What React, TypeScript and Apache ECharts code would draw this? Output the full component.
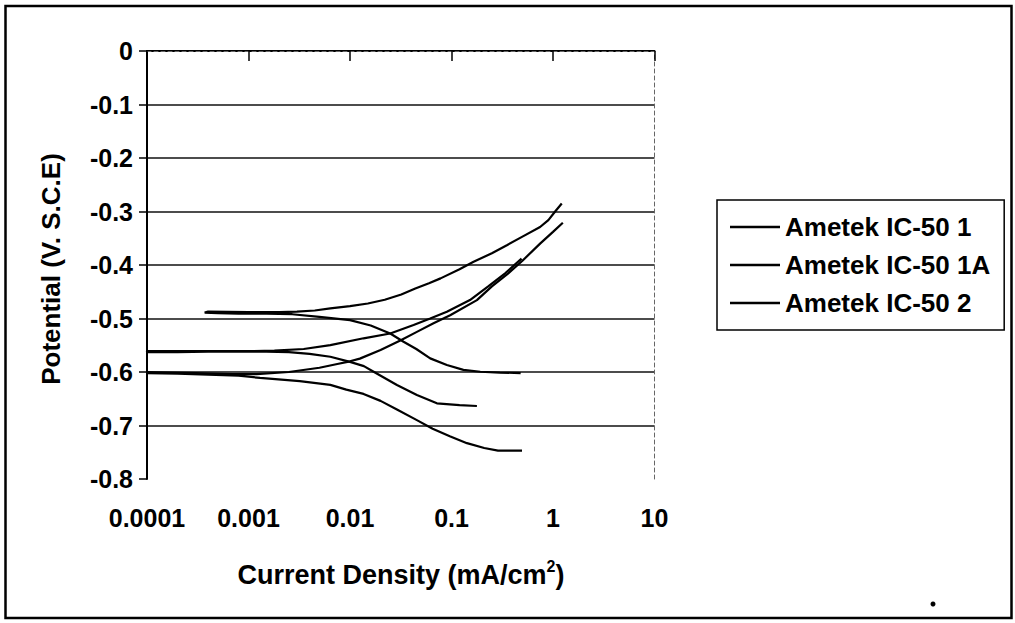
import React, { useEffect, useRef } from "react";
import * as echarts from "echarts";

const FONT = '"Liberation Sans", Arial, sans-serif';

const seriesNames = ["Ametek IC-50 1", "Ametek IC-50 1A", "Ametek IC-50 2"];
const xTickLabels = ["0.0001", "0.001", "0.01", "0.1", "1", "10"];
const yTickLabels = ["-0.8", "-0.7", "-0.6", "-0.5", "-0.4", "-0.3", "-0.2", "-0.1", "0"];

// [current density mA/cm2, potential V]; cathodic branch -> Ecorr -> anodic branch
const seriesA = [
  [0.48, -0.602], [0.3, -0.601], [0.192, -0.5995], [0.131, -0.596], [0.09, -0.587],
  [0.0617, -0.5745], [0.045, -0.557], [0.0337, -0.5435], [0.0249, -0.528], [0.016, -0.513],
  [0.01, -0.503], [0.005, -0.497], [0.0027, -0.492], [0.0015, -0.491], [0.0008, -0.491],
  [0.0005, -0.49], [0.00037, -0.489],
  [0.0004, -0.487], [0.001, -0.488], [0.002, -0.488], [0.003, -0.487], [0.0045, -0.485],
  [0.0064, -0.481], [0.01, -0.477], [0.015, -0.472], [0.022, -0.465], [0.032, -0.455],
  [0.044, -0.444], [0.06, -0.434], [0.078, -0.425], [0.12, -0.408], [0.165, -0.394],
  [0.25, -0.378], [0.351, -0.363], [0.5, -0.347], [0.746, -0.329], [0.9, -0.316],
  [1.05, -0.3], [1.22, -0.285],
];

const seriesB = [
  [0.178, -0.6636], [0.12, -0.662], [0.0718, -0.6586], [0.0456, -0.643], [0.029, -0.6244],
  [0.0171, -0.5995], [0.0137, -0.589], [0.01, -0.581], [0.0064, -0.5715], [0.004, -0.566],
  [0.0025, -0.563], [0.0015, -0.562], [0.0008, -0.562], [0.0004, -0.562], [0.0002, -0.563],
  [0.0001, -0.563],
  [0.0001, -0.561], [0.0003, -0.561], [0.001, -0.561], [0.0018, -0.56], [0.0035, -0.557],
  [0.0064, -0.5497], [0.0136, -0.537], [0.0249, -0.528], [0.0423, -0.512], [0.0617, -0.5],
  [0.09, -0.4875], [0.152, -0.4656], [0.23, -0.44], [0.34, -0.415], [0.49, -0.388],
];

const seriesC = [
  [0.495, -0.747], [0.287, -0.747], [0.21, -0.742], [0.142, -0.733], [0.0962, -0.72],
  [0.0652, -0.706], [0.0456, -0.69], [0.029, -0.67], [0.02, -0.654], [0.0136, -0.641],
  [0.0092, -0.633], [0.0064, -0.624], [0.0032, -0.617], [0.0013, -0.611], [0.0008, -0.607],
  [0.0004, -0.605], [0.0002, -0.603], [0.0001, -0.602],
  [0.0001, -0.6], [0.0003, -0.602], [0.0007, -0.604], [0.0012, -0.604], [0.0025, -0.6],
  [0.005, -0.592], [0.0075, -0.585], [0.01, -0.58], [0.0125, -0.575], [0.02, -0.559],
  [0.0313, -0.541], [0.0456, -0.525], [0.0665, -0.509], [0.097, -0.494], [0.178, -0.4656],
  [0.25, -0.44], [0.36, -0.416], [0.5, -0.392], [0.746, -0.36], [1.0, -0.338], [1.25, -0.321],
];

const allSeries = [seriesA, seriesB, seriesC];

export default function App() {
  const ref = useRef<HTMLDivElement>(null);
  useEffect(() => {
    if (!ref.current) return;
    const chart = echarts.init(ref.current, null, { renderer: "svg" });
    const xFmt = (v: number) => xTickLabels[Math.round(Math.log10(v)) + 4] ?? "";
    const yFmt = (v: number) => yTickLabels[Math.round((v + 0.8) * 10)] ?? "";
    const dashed = { show: true, lineStyle: { color: "#666", width: 1, type: [4, 3] as any } };
    chart.setOption({
      animation: false,
      backgroundColor: "#fff",
      grid: { left: 147, top: 51, right: 360.5, bottom: 144, containLabel: false },
      legend: {
        orient: "vertical",
        left: 717,
        top: 200,
        padding: [12, 14, 12, 13],
        itemGap: 8,
        itemWidth: 50,
        itemHeight: 2.5,
        icon: "rect",
        borderColor: "#000",
        borderWidth: 1.5,
        textStyle: { fontFamily: FONT, fontSize: 26, fontWeight: "bold", color: "#000", lineHeight: 30 },
        data: seriesNames,
      },
      xAxis: [
        {
          type: "log",
          logBase: 10,
          min: 0.0001,
          max: 10,
          axisLine: { show: true, lineStyle: { color: "#000", width: 2 } },
          axisTick: { show: true, inside: false, length: 10, lineStyle: { color: "#000", width: 1.5 } },
          axisLabel: { formatter: xFmt, margin: 26, color: "#000", fontFamily: FONT, fontWeight: "bold", fontSize: 25 },
          splitLine: { show: false },
          minorTick: { show: false },
        },
        {
          type: "log",
          logBase: 10,
          min: 0.0001,
          max: 10,
          position: "top",
          axisLine: dashed,
          axisTick: { show: false },
          axisLabel: { show: false },
          splitLine: { show: false },
        },
      ],
      yAxis: [
        {
          type: "value",
          min: -0.8,
          max: 0,
          interval: 0.1,
          axisLine: { show: true, lineStyle: { color: "#000", width: 2 } },
          axisTick: { show: true, inside: false, length: 8, lineStyle: { color: "#000", width: 1.5 } },
          axisLabel: { formatter: yFmt, margin: 14, color: "#000", fontFamily: FONT, fontWeight: "bold", fontSize: 25 },
          splitLine: { show: true, showMinLine: false, showMaxLine: false, lineStyle: { color: "#111", width: 1.6 } },
        },
        {
          type: "value",
          min: -0.8,
          max: 0,
          interval: 0.1,
          position: "right",
          axisLine: dashed,
          axisTick: { show: false },
          axisLabel: { show: false },
          splitLine: { show: false },
        },
      ],
      series: allSeries.map((d, i) => ({
        name: seriesNames[i],
        type: "line",
        data: d,
        symbol: "none",
        showSymbol: false,
        clip: true,
        lineStyle: { color: "#000", width: 2.2 },
        itemStyle: { color: "#000" },
      })),
      graphic: [
        {
          type: "rect",
          shape: { x: 5.5, y: 6, width: 1006, height: 612 },
          style: { fill: "none", stroke: "#000", lineWidth: 2.5 },
          silent: true,
        },
        {
          type: "text",
          x: 51,
          y: 269,
          rotation: Math.PI / 2,
          style: {
            text: "Potential (V. S.C.E)",
            fontFamily: FONT,
            fontWeight: "bold",
            fontSize: 26,
            fill: "#000",
            textAlign: "center",
            textVerticalAlign: "middle",
          },
        },
        {
          type: "text",
          x: 401,
          y: 573,
          style: {
            text: "{b|Current Density (mA/cm}{s|2}{b|)}",
            textAlign: "center",
            textVerticalAlign: "middle",
            rich: {
              b: { fontFamily: FONT, fontWeight: "bold", fontSize: 27, fill: "#000", lineHeight: 30, verticalAlign: "bottom" },
              s: { fontFamily: FONT, fontWeight: "bold", fontSize: 16, fill: "#000", lineHeight: 30, verticalAlign: "top" },
            },
          },
        },
        {
          type: "circle",
          shape: { cx: 933, cy: 604, r: 2.5 },
          style: { fill: "#000" },
        },
      ],
    });
    return () => chart.dispose();
  }, []);
  return (
    <div
      ref={ref}
      style={{ position: "fixed", left: 0, top: 0, width: 1015, height: 623, background: "#fff" }}
    />
  );
}
